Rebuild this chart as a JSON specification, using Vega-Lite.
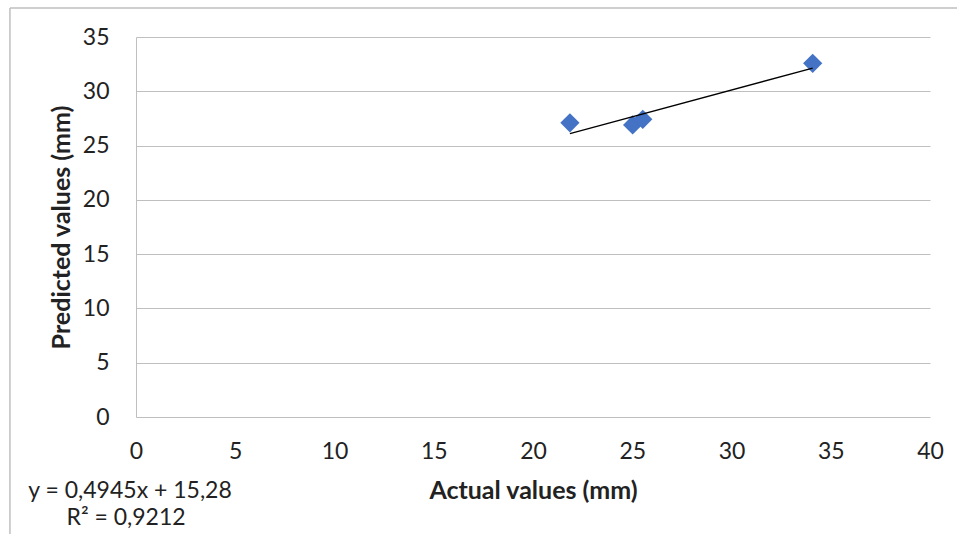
{
  "$schema": "https://vega.github.io/schema/vega-lite/v6.json",
  "width": 794,
  "height": 380,
  "autosize": {"type": "none"},
  "padding": {"left": 136, "top": 37, "right": 27, "bottom": 117},
  "background": "white",
  "config": {
    "view": {"stroke": null},
    "font": "Lato",
    "axis": {"labelFont": "Lato", "titleFont": "Lato", "labelColor": "#222", "titleColor": "#222", "labelFlush": false}
  },
  "datasets": {
    "points": [
      {"actual": 21.86, "predicted": 27.1},
      {"actual": 25.02, "predicted": 26.9},
      {"actual": 25.53, "predicted": 27.42},
      {"actual": 34.09, "predicted": 32.58}
    ],
    "trend": [
      {"actual": 21.86, "predicted": 26.09},
      {"actual": 34.09, "predicted": 32.14}
    ],
    "notes": [
      {"x": -0.3, "y": -6.8, "label": "y = 0,4945x + 15,28"},
      {"x": -0.5, "y": -9.3, "label": "R² = 0,9212"}
    ],
    "border": [
      {"x": -6.35, "y": 37.67, "x2": 41.5, "y2": 37.67},
      {"x": -6.35, "y": 37.67, "x2": -6.35, "y2": -11}
    ]
  },
  "layer": [
    {
      "data": {"name": "points"},
      "mark": {"type": "point", "shape": "diamond", "filled": true, "size": 370, "color": "#4472C4", "opacity": 1},
      "encoding": {
        "x": {
          "field": "actual", "type": "quantitative",
          "scale": {"domain": [0, 40], "nice": false},
          "axis": {
            "title": "Actual values (mm)", "values": [0, 5, 10, 15, 20, 25, 30, 35, 40],
            "grid": false, "ticks": false, "domain": false,
            "labelFontSize": 23, "labelPadding": 23,
            "titleFontSize": 25, "titleFontWeight": "bold", "titlePadding": 15
          }
        },
        "y": {
          "field": "predicted", "type": "quantitative",
          "scale": {"domain": [0, 35], "nice": false},
          "axis": {
            "title": "Predicted values (mm)", "values": [0, 5, 10, 15, 20, 25, 30, 35],
            "grid": true, "gridColor": "#bfbfbf", "gridWidth": 1,
            "ticks": false, "domain": true, "domainColor": "#bfbfbf",
            "labelFontSize": 23, "labelPadding": 27,
            "titleFontSize": 25, "titleFontWeight": "bold", "titlePadding": 8
          }
        }
      }
    },
    {
      "data": {"name": "trend"},
      "mark": {"type": "line", "color": "#000000", "strokeWidth": 1.3},
      "encoding": {
        "x": {"field": "actual", "type": "quantitative"},
        "y": {"field": "predicted", "type": "quantitative"}
      }
    },
    {
      "data": {"name": "notes"},
      "mark": {"type": "text", "fontSize": 23, "color": "#222", "clip": false, "align": "center", "baseline": "middle"},
      "encoding": {
        "x": {"field": "x", "type": "quantitative"},
        "y": {"field": "y", "type": "quantitative"},
        "text": {"field": "label"}
      }
    },
    {
      "data": {"name": "border"},
      "mark": {"type": "rule", "color": "#bfbfbf", "strokeWidth": 1.5, "clip": false},
      "encoding": {
        "x": {"field": "x", "type": "quantitative"},
        "y": {"field": "y", "type": "quantitative"},
        "x2": {"field": "x2"},
        "y2": {"field": "y2"}
      }
    }
  ]
}
